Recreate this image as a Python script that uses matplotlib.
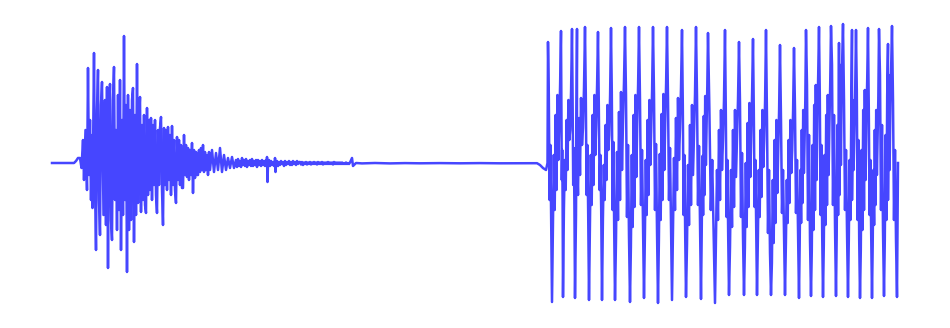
import numpy as np
import matplotlib
matplotlib.use('Agg')
from matplotlib import pyplot as plt

# readings taken off the trace: x position and level (0 = top edge, 163 = rest line)
burst_x = [52, 74, 76, 78, 80, 81.5, 83, 84, 85.5, 87, 88, 89, 90, 91, 92, 92.5, 94, 95, 96, 97,
           98, 99, 100, 101, 102, 103.5, 105, 106, 107, 108, 109, 110, 111, 112, 113, 114, 115,
           116, 117, 118, 119, 120, 121, 122, 123, 124, 125, 126, 127, 128, 129, 130, 131, 132,
           133, 134, 135, 136, 137, 138, 139, 140, 141, 142, 143, 144, 145, 146, 147, 148, 149,
           150, 151, 152, 153, 154, 155, 156, 157, 158, 159, 160, 161, 162, 163, 164, 165, 166,
           167, 168, 169, 170, 171, 172, 173, 174, 175, 176, 177, 178, 179, 180, 181, 182, 183,
           184, 185, 186, 187, 188, 189, 190, 191, 192, 193, 194, 195, 196, 197, 198, 199, 200,
           201, 202, 203, 204, 205, 206, 207, 208, 209]
burst_y = [163, 163, 161, 158, 158, 168, 140, 180, 130, 190, 68, 175, 120, 200, 135, 208, 53, 185, 250, 110,
           70, 200, 235, 105, 82, 215, 100, 225, 87, 268, 115, 84, 220, 240, 100, 67, 200,
           130, 230, 95, 210, 80, 250, 120, 215, 36, 200, 105, 272, 95, 230, 110, 220, 100,
           88, 242, 115, 215, 64, 203, 120, 97, 212, 125, 200, 115, 205, 213, 108, 195, 120,
           190, 118, 200, 125, 185, 120, 195, 213, 130, 185, 128, 117, 190, 225, 128, 185, 130,
           190, 127, 180, 135, 195, 126, 185, 140, 190, 203, 137, 180, 140, 185, 145, 188, 188,
           135, 175, 145, 177, 148, 180, 150, 175, 143, 193, 150, 178, 152, 175, 175, 150, 172,
           148, 170, 145, 172, 152, 170, 155, 175, 152]

tail_x = [210, 212, 214, 216, 218, 220, 222, 224, 226, 228, 230, 232, 234]
tail_y = [170, 150, 172, 153, 170, 148, 172, 155, 170, 158, 168, 157, 168]

# fine ripple of the decay, one reading per pixel from x = 236 to 350
ripple_x = np.arange(236, 351)
ripple_y = [160, 167, 159, 166, 161, 167, 158, 165, 160, 166, 159, 167, 161, 165, 160, 166,
            159, 166, 161, 165, 160, 167, 160, 165,
            161, 166, 160, 165, 161, 166, 160,
            161, 165, 160, 166, 161, 165, 162, 166, 160, 165, 161, 166, 162, 165, 161, 164,
            162, 166, 161, 165, 162, 164, 161, 165, 162, 165, 161, 164, 162, 165, 161, 164, 162,
            162, 164.5, 162, 165, 162.5, 164, 162, 164.5, 162.5, 164, 162, 164.5, 162.5, 164,
            162, 164, 162.5, 164.5, 162, 164, 162.5, 164, 162, 164.5, 162.5, 164, 162.5, 164,
            162, 164, 162.5, 164, 162.5, 164.5, 162, 164, 162.5, 164, 162.5, 164, 162.5, 164,
            162.5, 164, 163, 164, 162.5, 164, 163, 164, 162.5]
# isolated clicks in the decay
click_x = [267, 267.5, 275, 275.5, 352, 353]
click_y = [157, 182, 158, 172, 158, 166]

flat_x = [356, 362, 375, 390, 405, 420, 440, 460, 480, 500, 520, 537, 540, 543, 546, 547.5]
flat_y = [163, 163.4, 163, 163.4, 163.1, 163.3, 163.1, 163.3, 163.1, 163.3, 163.2, 163.2, 165, 168, 170, 163]

# clipped tone: one top spike and one bottom spike per cycle
top_x = [548, 561, 572, 585, 598, 611, 625, 639, 653, 667, 682, 696, 708, 725,
         739, 753, 766, 780, 794, 806, 819, 831, 843, 856, 868, 879, 892]
top_y = [42, 31, 29, 27, 32, 28, 27, 27, 27, 27, 30, 27, 33, 30,
         42, 39, 30, 45, 48, 30, 27, 26, 24, 30, 28, 29, 26]
bottom_x = [552, 563, 575, 589, 602, 615, 630, 644, 658, 672, 686, 701, 715, 729,
            744, 757, 771, 785, 799, 811, 823, 836, 848, 860, 872, 884, 897]
bottom_y = [302, 297, 298, 300, 300, 300, 302, 298, 303, 300, 297, 299, 303, 295,
            295, 295, 295, 295, 298, 296, 297, 296, 297, 298, 298, 296, 297]
# levels of the thick middle band in each cycle
band_hi = [95, 100, 98, 95, 105, 92, 95, 100, 94, 98, 105, 96, 110, 110,
           103, 110, 120, 120, 110, 85, 95, 65, 100, 90, 110, 75, 100]
band_lo = [220, 200, 205, 215, 210, 230, 237, 225, 230, 220, 235, 225, 230, 237,
           237, 227, 253, 233, 233, 240, 235, 225, 230, 240, 235, 230, 240]
extra_x = [577, 839, 852, 888]
extra_y = [29, 43, 30, 44]
end_x, end_y = 898, 163

pts = list(zip(burst_x, burst_y)) + list(zip(tail_x, tail_y))
pts += list(zip(ripple_x, ripple_y)) + list(zip(click_x, click_y)) + list(zip(flat_x, flat_y))
pts += list(zip(top_x, top_y)) + list(zip(bottom_x, bottom_y)) + list(zip(extra_x, extra_y))
for i in range(len(top_x)):
    hi, lo = band_hi[i], band_lo[i]
    # fall from top to bottom
    d = bottom_x[i] - top_x[i]
    for f, lv in zip([0.2, 0.4, 0.6, 0.8], [hi, lo - 20, hi + 50, lo]):
        pts.append((top_x[i] + f * d, lv))
    # rise from bottom to the next top, through the band
    if i + 1 < len(top_x):
        d = top_x[i + 1] - bottom_x[i]
        for f, lv in zip([0.1, 0.2, 0.3, 0.4, 0.5, 0.6, 0.7, 0.8, 0.9],
                         [lo + 10, hi + 60, lo - 10, hi + 20, lo - 30, hi, lo - 60, hi + 30, hi - 10]):
            pts.append((bottom_x[i] + f * d, lv))
pts.append((end_x, end_y))
pts.sort(key=lambda p: p[0])

t = np.array([p[0] for p in pts]) - 52
amp = (163 - np.array([p[1] for p in pts])) / 139.0

fig = plt.figure(figsize=(9.5, 3.28), dpi=100)
ax = fig.add_axes([0, 0, 1, 1])
ax.plot(t, amp, color='#4646ff', lw=1.8, solid_joinstyle='round')
ax.set_xlim(-52, 898)
ax.set_ylim((163 - 328) / 139.0, 163 / 139.0)
ax.axis('off')
fig.savefig('out.png', dpi=100)
